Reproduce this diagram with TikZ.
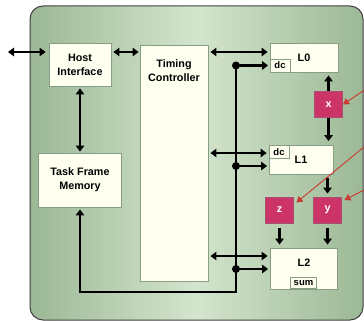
\documentclass[tikz,border=0pt]{standalone}
\usepackage{fontspec}
\setmainfont{Liberation Sans}
\usetikzlibrary{arrows.meta,positioning,calc}
\definecolor{gEdge}{HTML}{9CB896}
\definecolor{gMid}{HTML}{D4E5CD}
\definecolor{bFill}{HTML}{FFFFF0}
\definecolor{bLine}{HTML}{879E84}
\definecolor{pFill}{HTML}{CC3366}
\definecolor{pLine}{HTML}{A65072}
\definecolor{rLine}{HTML}{C93A30}
\newcommand{\lblfont}{\fontsize{10.8}{14}\selectfont\bfseries}
\newcommand{\subfont}{\fontsize{9.5}{11}\selectfont\bfseries}
\tikzset{board/.style={draw=black!75, line width=1pt, rounded corners=13pt, left color=gEdge, right color=gEdge, middle color=gMid, inner sep=0pt},
  blk/.style={draw=bLine, fill=bFill, line width=0.9pt, inner sep=0pt, font=\lblfont, align=center},
  sub/.style={draw=bLine, fill=bFill, line width=0.9pt, inner sep=0pt, font=\subfont},
  pin/.style={draw=pLine, fill=pFill, line width=0.9pt, inner sep=0pt, minimum width=28pt, minimum height=26pt, text=white, font=\lblfont},
  note/.style={font=\lblfont, align=center, inner sep=0pt},
  arr/.style={-{Triangle[length=6pt,width=8.5pt]}, line width=2.6pt},
  darr/.style={{Triangle[length=6pt,width=8.5pt]}-{Triangle[length=6pt,width=8.5pt]}, line width=2.6pt},
  rarr/.style={-{Triangle[length=6pt,width=7pt]}, line width=0.9pt, color=rLine},
  dot/.style={circle, fill=black, inner sep=0pt, minimum size=8pt}}

\begin{document}
\begin{tikzpicture}[x=1pt,y=-1pt]
\useasboundingbox (0,0) rectangle (364,321);
% ---- board ----
\node[board, minimum width=333pt, minimum height=314pt] (brd) at (196.5,163) {};
% ---- host side ----
\node[blk, minimum width=62pt, minimum height=43pt] (hi) at (80,64.5) {Host\\Interface};
\node[blk, minimum width=83pt, minimum height=54pt] (tfm) at (80,180) {Task Frame\\Memory};
\node[blk, minimum width=68pt, minimum height=236pt] (tc) at (174,163) {};
\node[note] (tct) at (174,71) {Timing\\Controller};
% ---- levels ----
\node[blk, minimum width=68pt, minimum height=29pt] (L0) at (304,57.5) {L0};
\node[sub, minimum width=20pt, minimum height=13pt, anchor=south west] (L0dc) at (L0.south west) {dc};
\node[blk, minimum width=64pt, minimum height=29pt] (L1) at (301,160) {L1};
\node[sub, minimum width=20pt, minimum height=13pt, anchor=north west] (L1dc) at (L1.north west) {dc};
\node[blk, minimum width=67pt, minimum height=41pt] (L2) at (303.5,268.5) {};
\node[note] (L2t) at (304,263) {L2};
\node[sub, minimum width=26pt, minimum height=11pt, anchor=south] (sum) at ([yshift=1pt]L2.south) {sum};
\node[pin] (xb) at (328.5,104.5) {x};
\node[pin] (zb) at (279.5,210) {z};
\node[pin] (yb) at (327.5,210) {y};
% ---- host links ----
\coordinate (ext) at (8,52);
\draw[darr, shorten >=3pt] (ext) -- (hi.west |- ext);
\draw[darr, shorten <=2pt, shorten >=1pt] (hi.east |- ext) -- (tc.west |- ext);
\draw[darr, shorten <=2pt, shorten >=1pt] (hi.south) -- (tfm.north);
% ---- timing to levels ----
\foreach \l/\dy in {L0/5.5,L1/7,L2/12.5}
  \draw[darr, shorten <=2pt, shorten >=2pt] ($(tc.east |- \l.west)+(0,-\dy)$) -- ($(\l.west)+(0,-\dy)$);
\node[dot] (d0) at (236,65.5) {}; \node[dot] (d1) at (236,166) {}; \node[dot] (d2) at (236,269) {};
\coordinate (bc) at (236,292);
\draw[arr, shorten >=2pt] (d0.center) -- (bc) -| (tfm.south);
\foreach \d/\l in {d0/L0,d1/L1,d2/L2}
  \draw[arr, shorten >=1.5pt] (\d.center) -- (\d.center -| \l.west);
% ---- mode blocks ----
\draw[arr, shorten >=3pt] (xb.north) -- (xb.north |- L0.south);
\draw[arr, shorten >=4pt] (xb.south) -- (xb.south |- L1.north);
\draw[arr, shorten <=3pt, shorten >=3pt] (yb.north |- L1.south) -- (yb.north);
\draw[arr, shorten <=5pt, shorten >=3pt] (zb.south) -- (zb.south |- L2.north);
\draw[arr, shorten <=5pt, shorten >=3pt] (yb.south) -- (yb.south |- L2.north);
% ---- outside inputs ----
\coordinate (r0) at (370,86.3); \coordinate (r1) at (370,142); \coordinate (r2) at (370,187);
\draw[rarr] (r0) -- (xb.east);
\draw[rarr] (r1) -- ($(zb.north east)+(2.5,6)$);
\draw[rarr] (r2) -- ($(yb.east)+(2.5,-10)$);
\end{tikzpicture}
\end{document}
